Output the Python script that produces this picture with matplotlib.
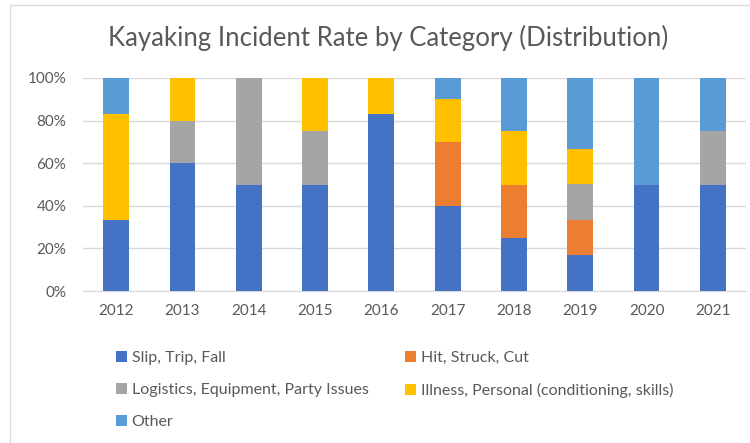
import numpy as np
import matplotlib.pyplot as plt
from matplotlib.patches import Rectangle
from matplotlib.ticker import PercentFormatter

plt.rcParams['font.family'] = ['Lato', 'DejaVu Sans']

years = ['2012', '2013', '2014', '2015', '2016', '2017', '2018', '2019', '2020', '2021']
slip_trip_fall = [33.3, 60, 50, 50, 83.3, 40, 25, 16.7, 50, 50]
hit_struck_cut = [0, 0, 0, 0, 0, 30, 25, 16.7, 0, 0]
logistics = [0, 20, 50, 25, 0, 0, 0, 16.7, 0, 25]
illness = [50, 20, 0, 25, 16.7, 20, 25, 16.7, 0, 0]
other = [16.7, 0, 0, 0, 0, 10, 25, 33.3, 50, 25]

series = [
    ("Slip, Trip, Fall", slip_trip_fall, "#4472c4"),
    ("Hit, Struck, Cut", hit_struck_cut, "#ed7d31"),
    ("Logistics, Equipment, Party Issues", logistics, "#a5a5a5"),
    ("Illness, Personal (conditioning, skills)", illness, "#ffc000"),
    ("Other", other, "#5b9bd5"),
]

fig = plt.figure(figsize=(7.5, 4.43), dpi=100)
ax = fig.add_axes([83 / 750, 0.343, 663 / 750, 0.481])

x = np.arange(len(years))
bottom = np.zeros(len(years))
handles = []
for name, vals, color in series:
    vals = np.array(vals, dtype=float)
    h = ax.bar(x, vals, 0.39, bottom=bottom, color=color, label=name, zorder=3)
    handles.append(h)
    bottom += vals

ax.set_ylim(0, 100)
ax.set_xlim(-0.5, len(years) - 0.5)
ax.set_yticks(np.arange(0, 101, 20))
ax.yaxis.set_major_formatter(PercentFormatter(decimals=0))
ax.set_xticks(x)
ax.set_xticklabels(years)
ax.grid(axis='y', color='#d9d9d9', linewidth=1, zorder=0)
for s in ['top', 'right', 'left']:
    ax.spines[s].set_visible(False)
ax.spines['bottom'].set_color('#d9d9d9')
ax.tick_params(axis='both', length=0, colors='#595959', labelsize=11)
ax.tick_params(axis='x', pad=9)
ax.tick_params(axis='y', pad=12)

fig.text(0.518, 0.915, "Kayaking Incident Rate by Category (Distribution)",
         ha='center', va='center', fontsize=18.5, color='#595959')

# legend fills column-major, reorder so it reads row by row
order = [0, 2, 4, 1, 3]
fig.legend(handles=[handles[i] for i in order], loc='upper left',
           bbox_to_anchor=(0.135, 0.24),
           ncol=2, frameon=False, fontsize=11.5, labelcolor='#595959',
           handlelength=0.7, handleheight=0.7, handletextpad=0.3,
           columnspacing=2.3, labelspacing=1.1)

fig.patches.append(Rectangle((10 / 750, -0.1), 1.2, 1 - 5 / 443 + 0.1,
                             transform=fig.transFigure, fill=False,
                             edgecolor='#d9d9d9', linewidth=1))

fig.savefig('out.png', dpi=100)
